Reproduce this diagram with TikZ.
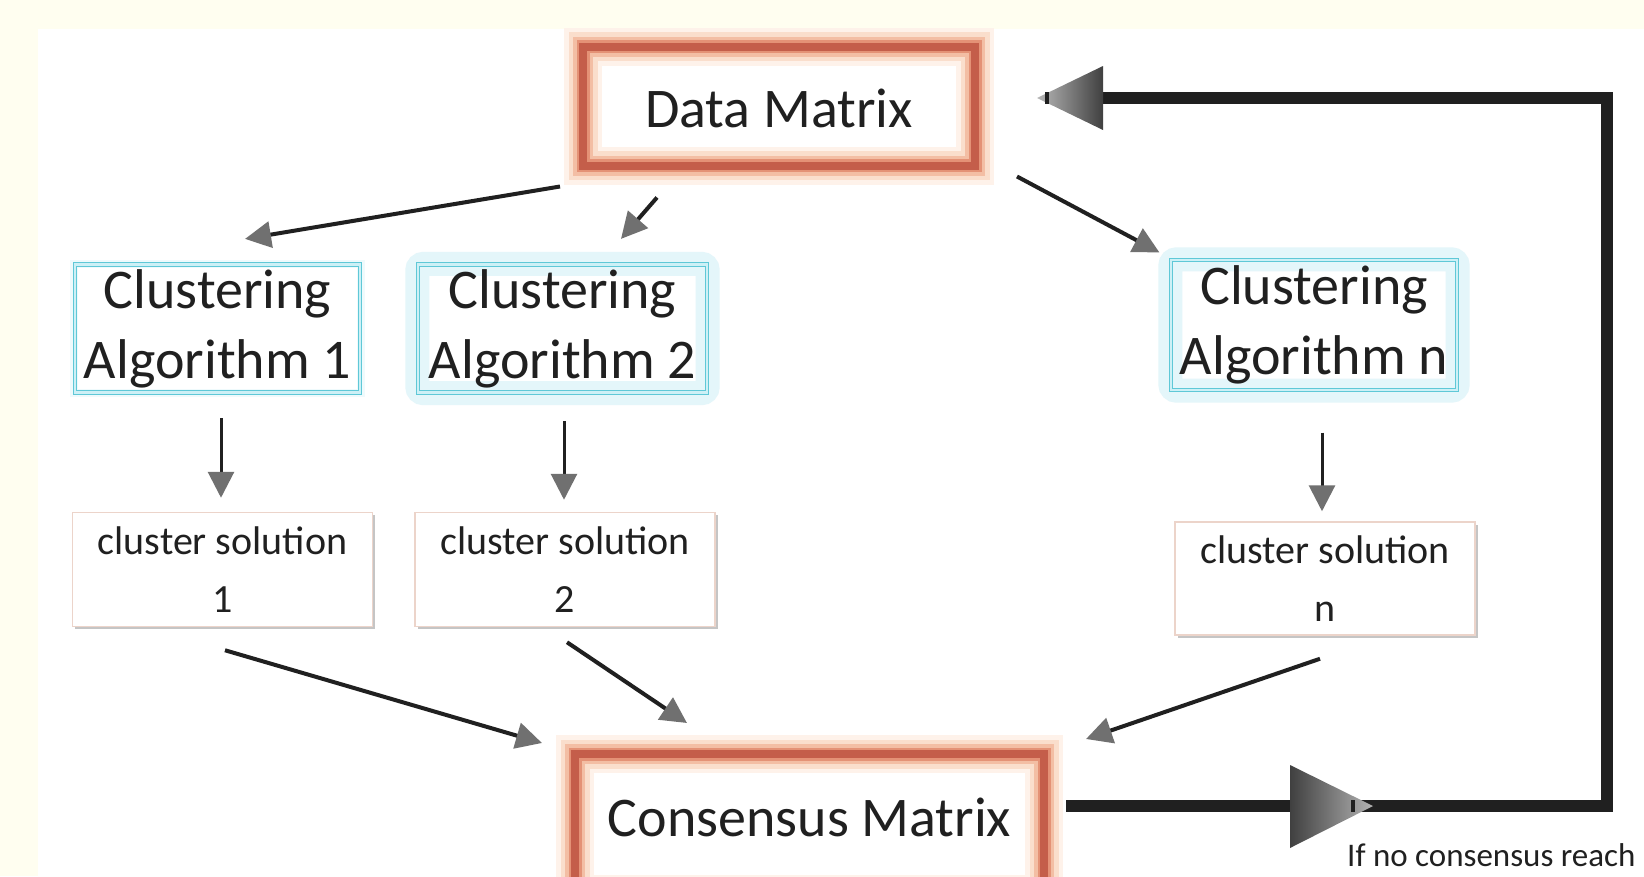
\documentclass[tikz,border=0pt]{standalone}
\usepackage{fontspec}
\setmainfont{Carlito}
\usetikzlibrary{arrows.meta,calc,shadows,backgrounds}

\definecolor{cream}{RGB}{255,254,240}
\definecolor{frame}{RGB}{196,94,74}
\definecolor{glowA}{RGB}{254,242,234}
\definecolor{glowB}{RGB}{250,222,204}
\definecolor{glowC}{RGB}{243,190,164}
\definecolor{glowD}{RGB}{228,146,118}
\definecolor{cyanline}{RGB}{95,200,215}
\definecolor{cyanfill}{RGB}{205,240,246}
\definecolor{halo}{RGB}{228,246,250}
\definecolor{csline}{RGB}{236,212,202}
\definecolor{ink}{RGB}{32,32,32}
\definecolor{arrowgray}{RGB}{112,112,112}

\begin{document}
\begin{tikzpicture}[x=1pt,y=-1pt,
  matrixbox/.style={draw=frame, line width=8pt, inner sep=0pt, text=ink,
    font=\fontsize{56}{70}\selectfont,
    preaction={draw=glowA, line width=38pt},
    preaction={draw=glowB, line width=29pt},
    preaction={draw=glowC, line width=20pt},
    preaction={draw=glowD, line width=13pt}},
  algbox/.style={draw=cyanline, double=cyanfill, double distance=2.5pt,
    line width=1.2pt, inner sep=0pt, align=center, text=ink,
    font=\fontsize{56}{70}\selectfont, minimum width=286pt, minimum height=128pt},
  csbox/.style={draw=csline, fill=white, line width=1.5pt, inner sep=0pt,
    align=center, text=ink, font=\fontsize{40}{58}\selectfont,
    minimum width=300pt, minimum height=114pt,
    drop shadow={shadow xshift=2.5pt, shadow yshift=-2.5pt, fill=black!45, opacity=.5}},
  conn/.style={draw=ink, line width=4pt,
    -{Triangle[length=26pt,width=26pt,color=arrowgray]}},
  vconn/.style={conn, line width=3pt},
  fbline/.style={draw=ink, line width=12pt},
  bighead/.style={draw=none},
]
\useasboundingbox (0,0) rectangle (1644,876);

% nodes
\node[matrixbox, minimum width=392pt, minimum height=119pt,
      text height=42pt, text depth=0pt] (dm) at (779,106) {Data Matrix};
\node[matrixbox, minimum width=469pt, minimum height=140pt,
      text height=36pt, text depth=12pt] (cm) at (809.5,824) {Consensus Matrix};

\node[algbox, minimum width=285pt] (ca1) at (217.5,328.5) {Clustering\\Algorithm 1};
\node[algbox, minimum width=289pt] (ca2) at (562.5,328.5) {Clustering\\Algorithm 2};
\node[algbox, minimum height=130pt] (can) at (1314,325) {Clustering\\Algorithm n};

\node[csbox] (cs1) at (222.5,569.5) {cluster solution\\1};
\node[csbox] (cs2) at (565,569.5) {cluster solution\\2};
\node[csbox, minimum height=113pt] (csn) at (1325,578.5) {cluster solution\\n};

\node[anchor=base west, inner sep=0pt, text=ink, font=\fontsize{33}{38}\selectfont]
  (nolabel) at (1347,866) {If no consensus reach};

% connectors from the data matrix
\draw[conn] ($(dm.south west)+(-19,17)$) -- ($(ca1.north)+(27.5,-25)$);
\draw[conn] ($(dm.south west)+(78,28)$) -- ($(ca2.north)+(58.5,-25)$);
\draw[conn] ($(dm.south east)+(38,7)$) -- ($(can.north west)+(-11,-7)$);

% algorithm -> solution
\draw[vconn] ($(ca1.south)+(3.5,25)$) -- ($(cs1.north)+(-1.5,-14)$);
\draw[vconn] ($(ca2.south)+(1.5,28)$) -- ($(cs2.north)+(-1,-12)$);
\draw[vconn] ($(can.south)+(8,42)$) -- ($(csn.north)+(-3,-10)$);

% solution -> consensus
\draw[conn] ($(cs1.south)+(2.5,23)$) -- ($(cm.north west)+(-29,-7)$);
\draw[conn] ($(cs2.south)+(2,15)$) -- ($(cm.north west)+(116,-27)$);
\draw[conn] ($(csn.south)+(-5,23)$) -- ($(cm.north east)+(38,-11)$);

% feedback loop
\coordinate (fbBR) at (1607,806);
\coordinate (fbTR) at (1607,98);
\coordinate (botHead) at (1290,806);
\coordinate (topHead) at (1103,98);
\draw[fbline] ($(cm.east)+(18,-18)$) -- (fbBR) -- (fbTR) -- (topHead);
\shade[bighead, left color=black!75, right color=black!30]
  ($(botHead)+(0,-41)$) -- ($(botHead)+(83,0)$) -- ($(botHead)+(0,42)$) -- cycle;
\fill[ink] ($(botHead)+(61,-6)$) rectangle ($(botHead)+(65,6)$);
\shade[bighead, left color=black!28, right color=black!75]
  ($(topHead)+(0,-32)$) -- ($(dm.east)+(58,-8)$) -- ($(topHead)+(0,32)$) -- cycle;
\fill[ink] ($(topHead)+(-58,-6)$) rectangle ($(topHead)+(-54,6)$);

% background, halos
\begin{scope}[on background layer]
  \fill[cream] (0,0) rectangle (1644,876);
  \fill[white] (38,29) rectangle (1644,876);
  \draw[halo, line width=24pt, rounded corners=6pt] (ca2.north west) rectangle (ca2.south east);
  \draw[halo, line width=24pt, rounded corners=6pt] (can.north west) rectangle (can.south east);
  \draw[halo!60!white, line width=8pt] (ca1.north west) rectangle (ca1.south east);
\end{scope}
\end{tikzpicture}
\end{document}
